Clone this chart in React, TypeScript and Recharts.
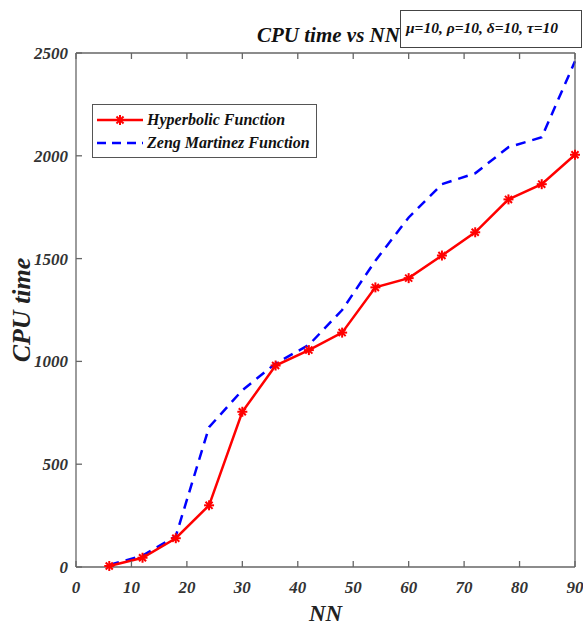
import React from 'react';
import { LineChart, Line, XAxis, YAxis } from 'recharts';

const nn = [6, 12, 18, 24, 30, 36, 42, 48, 54, 60, 66, 72, 78, 84, 90];
const hyperbolic = [5, 45, 140, 300, 755, 980, 1055, 1140, 1360, 1405, 1515, 1628, 1788, 1862, 2005];
const zengMartinez = [10, 55, 150, 680, 860, 990, 1080, 1250, 1490, 1700, 1862, 1915, 2042, 2090, 2460];
const xTicks = [0, 10, 20, 30, 40, 50, 60, 70, 80, 90];
const yTicks = [0, 500, 1000, 1500, 2000, 2500];

const data = nn.map((x, i) => ({ nn: x, hyp: hyperbolic[i], zeng: zengMartinez[i] }));

const serif = '"Liberation Serif", "Times New Roman", serif';
const tickStyle = { fontFamily: serif, fontWeight: 'bold', fontStyle: 'italic', fontSize: 17, fill: '#333' };
const axisColor = '#666';

const Star = ({ cx, cy }: any) => {
  if (cx == null || cy == null) return null;
  const r = 5;
  const arms = [0, 45, 90, 135].map((a) => {
    const rad = (a * Math.PI) / 180;
    return (
      <line
        key={a}
        x1={cx - r * Math.cos(rad)}
        y1={cy - r * Math.sin(rad)}
        x2={cx + r * Math.cos(rad)}
        y2={cy + r * Math.sin(rad)}
        stroke="#ff0000"
        strokeWidth={2}
      />
    );
  });
  return <g>{arms}</g>;
};

const LegendBox = () => (
  <div
    style={{
      position: 'absolute',
      left: 92,
      top: 104,
      border: '1px solid #555',
      background: '#fff',
      padding: '3px 6px 3px 4px',
      fontFamily: serif,
      fontWeight: 'bold',
      fontStyle: 'italic',
      fontSize: 16,
      color: '#111',
      lineHeight: '23px',
      whiteSpace: 'nowrap',
    }}
  >
    <div style={{ display: 'flex', alignItems: 'center' }}>
      <svg width={46} height={14} style={{ marginRight: 4 }}>
        <line x1={0} y1={7} x2={46} y2={7} stroke="#ff0000" strokeWidth={2.5} />
        <Star cx={23} cy={7} />
      </svg>
      Hyperbolic Function
    </div>
    <div style={{ display: 'flex', alignItems: 'center' }}>
      <svg width={46} height={14} style={{ marginRight: 4 }}>
        <line x1={0} y1={7} x2={46} y2={7} stroke="#0000ff" strokeWidth={2.5} strokeDasharray="9 6" />
      </svg>
      Zeng Martinez Function
    </div>
  </div>
);

export default function App() {
  return (
    <div style={{ position: 'absolute', left: 0, top: 0, width: 583, height: 629, background: '#fff' }}>
      <LineChart
        width={583}
        height={629}
        data={data}
        margin={{ top: 52, right: 7, left: 16, bottom: 32 }}
      >
        <XAxis
          dataKey="nn"
          type="number"
          domain={[0, 90]}
          ticks={xTicks}
          interval={0}
          height={30}
          axisLine={{ stroke: axisColor, strokeWidth: 1.3 }}
          tickLine={{ stroke: axisColor, strokeWidth: 1.3, transform: 'translate(0,-6)' }}
          tick={tickStyle}
          tickSize={6}
          tickMargin={8}
          label={{ value: 'NN', position: 'bottom', offset: 8, style: { fontFamily: serif, fontWeight: 'bold', fontStyle: 'italic', fontSize: 23, fill: '#222' } }}
        />
        <XAxis
          xAxisId="top"
          dataKey="nn"
          type="number"
          orientation="top"
          domain={[0, 90]}
          ticks={xTicks}
          height={1}
          axisLine={{ stroke: axisColor, strokeWidth: 1.3 }}
          tickLine={{ stroke: axisColor, strokeWidth: 1.3, transform: 'translate(0,6)' }}
          tick={() => <g />}
          tickSize={6}
        />
        <YAxis
          type="number"
          domain={[0, 2500]}
          ticks={yTicks}
          interval={0}
          width={60}
          axisLine={{ stroke: axisColor, strokeWidth: 1.3 }}
          tickLine={{ stroke: axisColor, strokeWidth: 1.3, transform: 'translate(6,0)' }}
          tick={tickStyle}
          tickSize={6}
          tickMargin={2}
          label={{ value: 'CPU time', angle: -90, position: 'insideLeft', offset: 0, dx: 5, style: { textAnchor: 'middle', fontFamily: serif, fontWeight: 'bold', fontStyle: 'italic', fontSize: 26, fill: '#222' } }}
        />
        <YAxis
          yAxisId="right"
          type="number"
          orientation="right"
          domain={[0, 2500]}
          ticks={yTicks}
          width={1}
          axisLine={{ stroke: axisColor, strokeWidth: 1.3 }}
          tickLine={{ stroke: axisColor, strokeWidth: 1.3, transform: 'translate(-6,0)' }}
          tick={() => <g />}
          tickSize={6}
        />
        <Line
          dataKey="zeng"
          stroke="#0000ff"
          strokeWidth={2.5}
          strokeDasharray="10 7"
          dot={false}
          isAnimationActive={false}
        />
        <Line
          dataKey="hyp"
          stroke="#ff0000"
          strokeWidth={2.5}
          dot={<Star />}
          isAnimationActive={false}
        />
      </LineChart>
      <LegendBox />
      <div
        style={{
          position: 'absolute',
          left: 257,
          top: 23,
          fontFamily: serif,
          fontWeight: 'bold',
          fontStyle: 'italic',
          fontSize: 21,
          color: '#111',
          whiteSpace: 'nowrap',
        }}
      >
        CPU time vs NN
      </div>
      <div
        style={{
          position: 'absolute',
          left: 400,
          top: 10,
          width: 182,
          height: 38,
          border: '1px solid #444',
          background: '#fff',
          boxSizing: 'border-box',
          fontFamily: serif,
          fontWeight: 'bold',
          fontStyle: 'italic',
          fontSize: 15.5,
          color: '#111',
          paddingLeft: 5,
          lineHeight: '34px',
          whiteSpace: 'nowrap',
        }}
      >
        μ=10, ρ=10, δ=10, τ=10
      </div>
    </div>
  );
}
